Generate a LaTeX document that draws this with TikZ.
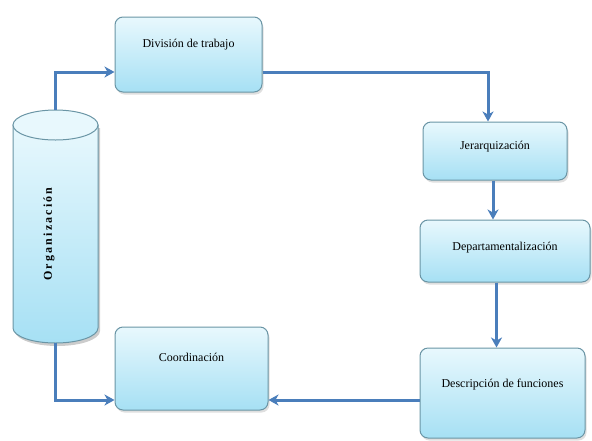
\documentclass[tikz,border=0pt]{standalone}
\usepackage{fontspec}
\setmainfont{Liberation Serif}
\usetikzlibrary{arrows.meta,shadows}
\definecolor{boxtop}{HTML}{E8F8FD}
\definecolor{boxbot}{HTML}{A6E0F4}
\definecolor{boxline}{HTML}{6A95A5}
\definecolor{arrblue}{HTML}{4A7EBB}
\tikzset{
  box/.style={draw=boxline, line width=1pt, rounded corners=8pt,
    top color=boxtop, bottom color=boxbot,
    drop shadow={opacity=0.25, shadow xshift=1.5pt, shadow yshift=-2.5pt}},
  lbl/.style={font=\fontsize{12}{14}\selectfont, text=black, inner sep=0pt},
  arr/.style={draw=arrblue, line width=3pt,
    -{Stealth[length=10pt, width=11pt, inset=3pt]}},
}
\begin{document}
\begin{tikzpicture}[x=1pt,y=-1pt]
\useasboundingbox (0,0) rectangle (592,440);
% cylinder
\fill[black, opacity=0.2] (15,128) -- (15,331) arc[start angle=180, end angle=0, x radius=42.5, y radius=15] -- (100,128) -- cycle;
\draw[boxline, line width=1pt, top color=boxtop, bottom color=boxbot]
  (13,125) -- (13,328) arc[start angle=180, end angle=0, x radius=42.5, y radius=15] -- (98,125) -- cycle;
\draw[boxline, line width=1pt, fill=boxtop] (55.5,125) ellipse[x radius=42.5, y radius=15];
\node[minimum width=85pt, minimum height=233pt, inner sep=0pt] (org) at (55.5,226.5) {};
\node[lbl, rotate=90, font=\fontsize{12}{14}\selectfont\bfseries\addfontfeatures{LetterSpace=18}] (orgt) at (49,234) {Organización};
% boxes
\node[box, minimum width=147pt, minimum height=75pt] (div) at (188.5,54.5) {};
\node[lbl] (divt) at (188.5,45) {División de trabajo};
\node[box, minimum width=144pt, minimum height=58pt] (jer) at (495,151) {};
\node[lbl] (jert) at (495,147) {Jerarquización};
\node[box, minimum width=170pt, minimum height=62pt] (dep) at (505,251) {};
\node[lbl] (dept) at (505,248) {Departamentalización};
\node[box, minimum width=165pt, minimum height=90pt] (desc) at (502.5,393) {};
\node[lbl] (desct) at (502.5,385) {Descripción de funciones};
\node[box, minimum width=153pt, minimum height=83pt] (coord) at (191.5,368.5) {};
\node[lbl] (coordt) at (191.5,357) {Coordinación};
% connectors
\draw[arr] (org.north) |- ([yshift=-17.5pt]div.west);
\draw[arr] ([yshift=-17.5pt]div.east) -| ([xshift=-7pt]jer.north);
\draw[arr] ([xshift=-2pt]jer.south) -- ([xshift=-2pt]jer.south |- dep.north);
\draw[arr] ([xshift=-6pt]desc.north |- dep.south) -- ([xshift=-6pt]desc.north);
\draw[arr] ([yshift=-7pt]desc.west) -- ([yshift=-31.5pt]coord.east);
\draw[arr] (org.south) |- ([yshift=-31.5pt]coord.west);
\end{tikzpicture}
\end{document}
